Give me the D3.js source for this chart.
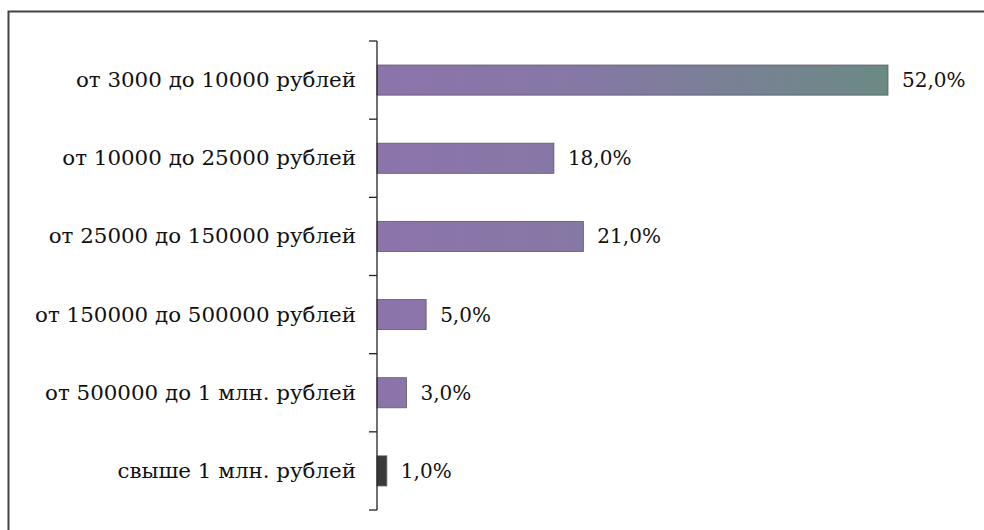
<!DOCTYPE html>
<html>
<head>
<meta charset="utf-8">
<script src="https://d3js.org/d3.v7.min.js"></script>
<style>
  body { margin: 0; background: #fff; overflow: hidden; }
  .lbl { font-family: "DejaVu Serif", "Liberation Serif", serif; }
</style>
</head>
<body>
<div id="chart"></div>
<script>
// data
var categories = ["от 3000 до 10000 рублей", "от 10000 до 25000 рублей", "от 25000 до 150000 рублей",
                  "от 150000 до 500000 рублей", "от 500000 до 1 млн. рублей", "свыше 1 млн. рублей"];
var values = [52, 18, 21, 5, 3, 1];
var valueLabels = ["52,0%", "18,0%", "21,0%", "5,0%", "3,0%", "1,0%"];

var width = 984, height = 530;

var svg = d3.select("#chart").append("svg")
  .attr("width", width)
  .attr("height", height);

// frame, only top and left edges are in the picture
svg.append("rect")
  .attr("x", 8.5).attr("y", 11.5)
  .attr("width", 1000).attr("height", 540)
  .attr("fill", "none")
  .attr("stroke", "#444")
  .attr("stroke-width", 2);

var x0 = 377, y0 = 41, y1 = 510;
var x = d3.scaleLinear().domain([0, 52]).range([x0, 888]);
var y = d3.scaleBand().domain(categories).range([y0, y1]).paddingInner(0.615).paddingOuter(0.3075);

// fill gradient: purple into grey-green along the bars
var grad = svg.append("defs").append("linearGradient")
  .attr("id", "barfill")
  .attr("gradientUnits", "userSpaceOnUse")
  .attr("x1", x0).attr("x2", 888).attr("y1", 0).attr("y2", 0);
grad.append("stop").attr("offset", "0%").attr("stop-color", "#8c74ab");
grad.append("stop").attr("offset", "40%").attr("stop-color", "#8678a5");
grad.append("stop").attr("offset", "100%").attr("stop-color", "#6b8a84");

svg.selectAll("rect.bar")
  .data(values)
  .enter()
  .append("rect")
  .attr("class", "bar")
  .attr("x", x0)
  .attr("y", function (d, i) { return y(categories[i]); })
  .attr("width", function (d) { return x(d) - x0; })
  .attr("height", y.bandwidth())
  .attr("fill", function (d) { return d < 2 ? "#3a3a3a" : "url(#barfill)"; })
  .attr("stroke", "#5a5a66")
  .attr("stroke-width", 0.8);

// axis with the ticks on category boundaries
var ticks = d3.range(categories.length + 1).map(function (i) {
  return y0 + i * (y1 - y0) / categories.length;
});
svg.append("line")
  .attr("x1", x0).attr("x2", x0)
  .attr("y1", y0).attr("y2", y1)
  .attr("stroke", "#222").attr("stroke-width", 1.3);
svg.selectAll("line.tick")
  .data(ticks)
  .enter()
  .append("line")
  .attr("class", "tick")
  .attr("x1", x0 - 8).attr("x2", x0)
  .attr("y1", function (d) { return d; })
  .attr("y2", function (d) { return d; })
  .attr("stroke", "#222").attr("stroke-width", 1.3);

// category labels
svg.selectAll("text.cat")
  .data(categories)
  .enter()
  .append("text")
  .attr("class", "cat lbl")
  .attr("transform", function (d) {
    return "translate(356," + (y(d) + y.bandwidth() / 2) + ") scale(1.07,1)";
  })
  .attr("dy", "0.35em")
  .attr("text-anchor", "end")
  .style("font-size", "20px")
  .attr("fill", "#111")
  .text(function (d) { return d; });

// value labels
svg.selectAll("text.val")
  .data(values)
  .enter()
  .append("text")
  .attr("class", "val lbl")
  .attr("transform", function (d, i) {
    return "translate(" + (x(d) + 14) + "," + (y(categories[i]) + y.bandwidth() / 2) + ")";
  })
  .attr("dy", "0.35em")
  .style("font-size", "20px")
  .attr("fill", "#111")
  .text(function (d, i) { return valueLabels[i]; });
</script>
</body>
</html>
